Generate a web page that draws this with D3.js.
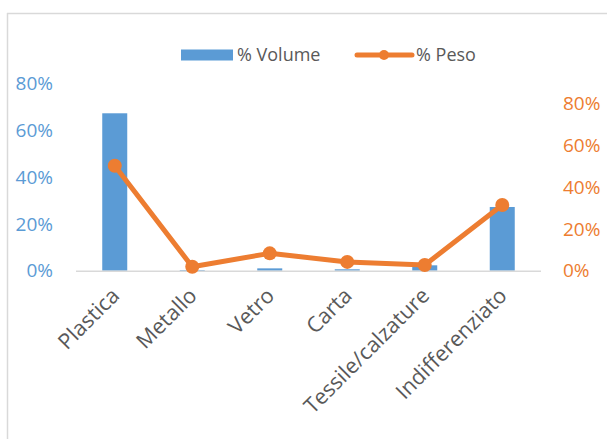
<!DOCTYPE html>
<html>
  <head>
    <meta charset="utf-8">
    <title>volume / peso</title>
    <script src="https://cdn.jsdelivr.net/npm/d3@7"></script>
    <style>
body { margin: 0; background: #fff; }
text { font-family: "Open Sans", sans-serif; }
    </style>
  </head>
  <body>
    <script>

var categories = ["Plastica", "Metallo", "Vetro", "Carta", "Tessile/calzature", "Indifferenziato"];
var volume = [0.672, 0.003, 0.010, 0.006, 0.023, 0.272];
var peso = [0.502, 0.019, 0.083, 0.042, 0.027, 0.314];
var ticks = [0, 0.2, 0.4, 0.6, 0.8];

var width = 607, height = 439;
var blue = "#5b9bd5", orange = "#ed7d31", grey = "#595959";

var svg = d3.select("body").append("svg")
    .attr("width", width)
    .attr("height", height);

// frame (only top + left show)
svg.append("line").attr("x1", 7).attr("y1", 13.5).attr("x2", 607).attr("y2", 13.5)
    .attr("stroke", "#d9d9d9").attr("stroke-width", 1.5);
svg.append("line").attr("x1", 7.5).attr("y1", 13).attr("x2", 7.5).attr("y2", 439)
    .attr("stroke", "#d9d9d9").attr("stroke-width", 1.5);

var x = d3.scaleBand().domain(categories).range([76, 541]);
var yL = d3.scaleLinear().domain([0, 0.8]).range([270.7, 83.3]);
var yR = d3.scaleLinear().domain([0, 0.8]).range([270.7, 103.5]);
var pct = d3.format(".0%");

// left axis labels
svg.append("g").selectAll("text").data(ticks).join("text")
    .attr("x", 53).attr("y", d => yL(d))
    .attr("dy", "0.35em").attr("text-anchor", "end")
    .attr("fill", blue).style("font-size", "19px")
    .text(pct);

// right axis labels
svg.append("g").selectAll("text").data(ticks).join("text")
    .attr("x", 563).attr("y", d => yR(d))
    .attr("dy", "0.35em").attr("text-anchor", "start")
    .attr("fill", orange).style("font-size", "19px")
    .text(pct);

// bars
var bw = 25;
svg.append("g").selectAll("rect").data(volume).join("rect")
    .attr("x", (d, i) => x(categories[i]) + x.bandwidth() / 2 - bw / 2)
    .attr("y", d => yL(d))
    .attr("width", bw)
    .attr("height", d => yL(0) - yL(d))
    .attr("fill", blue);

// baseline
svg.append("line")
    .attr("x1", x.range()[0]).attr("x2", x.range()[1])
    .attr("y1", yL(0) + 0.5).attr("y2", yL(0) + 0.5)
    .attr("stroke", "#d9d9d9").attr("stroke-width", 1.5);

// line series
var line = d3.line()
    .x((d, i) => x(categories[i]) + x.bandwidth() / 2)
    .y(d => yR(d));
svg.append("path").datum(peso)
    .attr("d", line)
    .attr("fill", "none").attr("stroke", orange)
    .attr("stroke-width", 5).attr("stroke-linejoin", "round");
svg.append("g").selectAll("circle").data(peso).join("circle")
    .attr("cx", (d, i) => x(categories[i]) + x.bandwidth() / 2)
    .attr("cy", d => yR(d))
    .attr("r", 7).attr("fill", orange);

// category labels
svg.append("g").selectAll("text").data(categories).join("text")
    .attr("transform", d => "translate(" + (x(d) + x.bandwidth() / 2 + 6) + "," + 297 + ") rotate(-45)")
    .attr("text-anchor", "end")
    .attr("fill", grey).style("font-size", "21.5px")
    .text(d => d);

// legend
var lg = svg.append("g");
lg.append("rect").attr("x", 181).attr("y", 49.5).attr("width", 52).attr("height", 11).attr("fill", blue);
lg.append("text").attr("x", 237).attr("y", 55).attr("dy", "0.35em")
    .attr("fill", grey).style("font-size", "18px").text("% Volume");
lg.append("line").attr("x1", 357).attr("x2", 412).attr("y1", 55).attr("y2", 55)
    .attr("stroke", orange).attr("stroke-width", 5).attr("stroke-linecap", "round");
lg.append("circle").attr("cx", 384).attr("cy", 55).attr("r", 5).attr("fill", orange);
lg.append("text").attr("x", 416).attr("y", 55).attr("dy", "0.35em")
    .attr("fill", grey).style("font-size", "18px").text("% Peso");

</script>
  </body>
</html>
